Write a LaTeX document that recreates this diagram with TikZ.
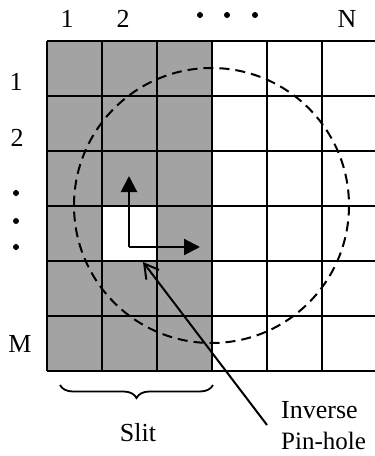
\documentclass[tikz,border=0pt]{standalone}
\usepackage{fontspec}
\setmainfont{Liberation Serif}
\usetikzlibrary{arrows.meta,decorations.pathreplacing}
\begin{document}
\begin{tikzpicture}[x=1pt,y=-1pt,
  gridline/.style={line width=2.2pt,black},
  lbl/.style={inner sep=0pt,font=\fontsize{26}{30}\selectfont},
  dotmark/.style={circle,fill=black,inner sep=0pt,minimum size=6pt},
  axisarrow/.style={line width=2.2pt,-{Triangle[length=16pt,width=16pt]}},
  pointer/.style={line width=2pt,-{Straight Barb[length=14pt,width=16pt]}},
  circ/.style={line width=2pt,dash pattern=on 10pt off 6pt}]
\useasboundingbox (0,0) rectangle (375,456);
% shaded slit
\fill[black!36] (47,40.7) rectangle (212,370.7);
\fill[white] (102,205.7) rectangle (157,260.7);
% grid
\foreach \x in {47,102,157,212,267,322}
  \draw[gridline] (\x,40.7) -- (\x,370.7);
\foreach \y in {40.7,95.7,150.7,205.7,260.7,315.7,370.7}
  \draw[gridline] (47,\y) -- (376,\y);
% dashed circle
\draw[circ] (211.5,205.5) circle[radius=137.5];
% axes
\coordinate (o) at (129,247);
\coordinate (up) at (129,176);
\coordinate (rt) at (200,247);
\draw[axisarrow] (o) -- (up);
\draw[axisarrow] (o) -- (rt);
% labels top
\node[lbl] (c1) at (67,19) {1};
\node[lbl] (c2) at (123,19) {2};
\node[dotmark] (d1) at (200,15) {};
\node[dotmark] (d2) at (227,15) {};
\node[dotmark] (d3) at (255,15) {};
\node[lbl] (cN) at (347,19) {N};
% labels left
\node[lbl] (r1) at (16,82) {1};
\node[lbl] (r2) at (17,138) {2};
\node[dotmark] (e1) at (16,193) {};
\node[dotmark] (e2) at (16,221) {};
\node[dotmark] (e3) at (16,247) {};
\node[lbl] (rM) at (20,344) {M};
% brace
\draw[line width=1.8pt,decorate,decoration={brace,mirror,amplitude=13pt}] (60,385) -- (213,385);
\node[lbl] (slit) at (138,433) {Slit};
% pointer
\coordinate (tip) at (143,262);
\node[lbl,anchor=west] (inv) at (281,410) {Inverse};
\node[lbl,anchor=west,font=\fontsize{25}{30}\selectfont] (pin) at (281,441) {Pin-hole};
\coordinate (ptail) at (267,425);
\draw[pointer] (ptail) -- (tip);
\end{tikzpicture}
\end{document}
